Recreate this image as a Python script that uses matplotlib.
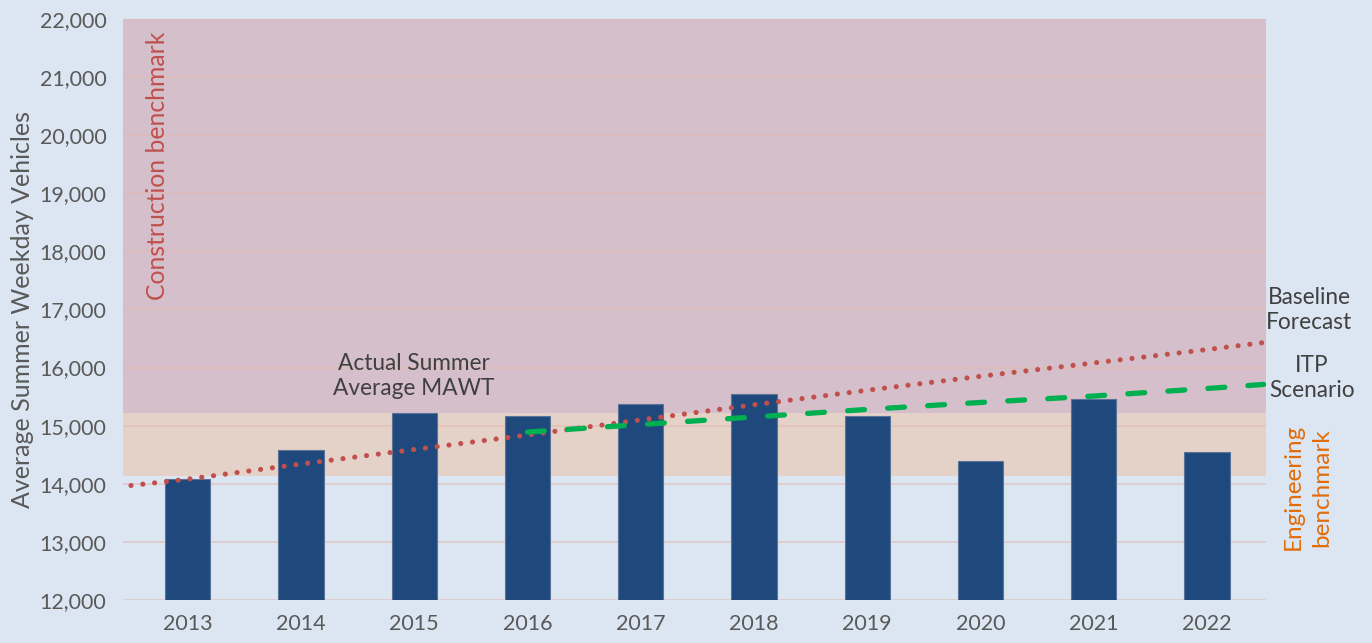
import matplotlib
matplotlib.use("Agg")
import matplotlib.pyplot as plt
import numpy as np

plt.rcParams['font.family'] = ['Lato', 'DejaVu Sans']

years = [2013, 2014, 2015, 2016, 2017, 2018, 2019, 2020, 2021, 2022]
actual = [14090, 14575, 15210, 15160, 15380, 15550, 15170, 14390, 15460, 14555]

baseline_years = [2012.5, 2013, 2014, 2015, 2016, 2017, 2018, 2019, 2020, 2021, 2022, 2022.5]
baseline = [13970, 14080, 14340, 14590, 14840, 15100, 15360, 15610, 15850, 16080, 16310, 16430]

itp_years = [2016, 2017, 2018, 2019, 2020, 2021, 2022, 2022.5]
itp = [14890, 15020, 15150, 15280, 15400, 15510, 15640, 15710]

engineering_band = (14130, 15210)
construction_band = (15210, 22000)
yticks = [12000, 13000, 14000, 15000, 16000, 17000, 18000, 19000, 20000, 21000, 22000]

bg = '#DCE6F2'
fig = plt.figure(figsize=(13.72, 6.43), dpi=100, facecolor=bg)
ax = fig.add_axes([0.0897, 0.0669, 0.9227 - 0.0897, 0.9705 - 0.0669])
ax.set_facecolor(bg)

ax.axhspan(*engineering_band, color='#E4D2C8', zorder=0, lw=0)
ax.axhspan(*construction_band, color='#D5BFCA', zorder=0, lw=0)

for yv in yticks:
    ax.axhline(yv, color='#E2B7AE', alpha=0.55, lw=1.3, zorder=0.5)

ax.bar(years, actual, width=0.40, bottom=0, color='#1F497D', edgecolor='#5A7399',
       linewidth=0.8, zorder=2)

ax.plot(baseline_years, baseline, color='#C0504D', lw=3.7, linestyle=(0, (0.01, 2.3)),
        dash_capstyle='round', zorder=3)
ax.plot(itp_years, itp, color='#00B050', lw=3.8, linestyle=(0, (3.2, 4.4)),
        dash_capstyle='round', zorder=3)

ax.set_xlim(2012.43, 2022.52)
ax.set_ylim(12000, 22000)
ax.set_yticks(yticks)
ax.set_yticklabels([f"{v:,}" for v in yticks])
ax.set_xticks(years)
ax.set_xticklabels([str(y) for y in years])
ax.tick_params(axis='both', length=0, labelsize=15.5, colors='#595959')
ax.tick_params(axis='y', pad=12)
ax.tick_params(axis='x', pad=10)
for s in ax.spines.values():
    s.set_visible(False)

ax.set_ylabel('Average Summer Weekday Vehicles', fontsize=18, color='#595959', labelpad=4)

ax.text(2012.73, 21780, 'Construction benchmark', rotation=90, ha='center', va='top',
        fontsize=17.8, color='#C0504D', zorder=4)
ax.text(2015, 15860, 'Actual Summer\nAverage MAWT', ha='center', va='center',
        fontsize=16.3, color='#404040', linespacing=1.25, zorder=4)

ax.text(1.0376, 0.499, 'Baseline\nForecast', transform=ax.transAxes, ha='center', va='center',
        fontsize=16.3, color='#404040', linespacing=1.25)
ax.text(1.040, 0.382, 'ITP\nScenario', transform=ax.transAxes, ha='center', va='center',
        fontsize=16.3, color='#404040', linespacing=1.25)
ax.text(1.036, 0.194, 'Engineering\nbenchmark', transform=ax.transAxes, ha='center', va='center',
        rotation=90, fontsize=17.5, color='#E36C09', linespacing=1.45)

fig.savefig('out.png', dpi=100, facecolor=bg)
